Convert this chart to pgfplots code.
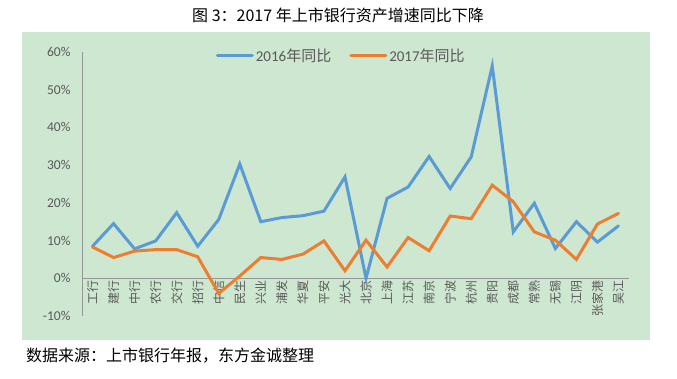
\documentclass[border=0pt]{standalone}
\usepackage{pgfplots}
\pgfplotsset{compat=1.18}
\usepackage{fontspec}
\setmainfont{Noto Sans CJK SC}
\newfontfamily\num{Carlito}
\definecolor{bgcol}{RGB}{205,231,208}
\definecolor{s16}{RGB}{91,155,213}
\definecolor{s17}{RGB}{237,125,49}
\definecolor{axgray}{RGB}{150,150,150}
\definecolor{txtgray}{RGB}{89,89,89}
\pgfplotstableread{
x y16 y17
0 8.5 8.3
1 14.5 5.5
2 7.8 7.2
3 9.9 7.6
4 17.4 7.6
5 8.5 5.7
6 15.6 -4.0
7 30.3 0.6
8 15.0 5.5
9 16.1 5.0
10 16.6 6.4
11 17.8 9.9
12 26.9 2.0
13 0.0 10.1
14 21.2 3.0
15 24.2 10.8
16 32.3 7.3
17 23.8 16.5
18 32.2 15.8
19 56.3 24.7
20 12.3 20.3
21 19.9 12.3
22 7.9 10.1
23 15.0 5.0
24 9.6 14.4
25 13.9 17.2
}\datatable
\begin{document}
\begin{tikzpicture}
\useasboundingbox (0pt,0pt) rectangle (677pt,378pt);
\fill[bgcol] (22pt,38pt) rectangle (650pt,346pt);
\node[font=\fontsize{16}{18}\selectfont] at (338pt,363pt) {图 3：2017 年上市银行资产增速同比下降};
\node[anchor=west,font=\fontsize{16}{18}\selectfont, inner sep=0pt] at (26pt,22pt) {数据来源：上市银行年报，东方金诚整理};
\begin{axis}[
  at={(82pt,62pt)}, anchor=south west,
  scale only axis, width=547pt, height=264pt,
  xmin=-0.5, xmax=25.5, ymin=-10, ymax=60,
  axis x line*=middle, axis y line*=left,
  axis line style={axgray, line width=0.8pt},
  major tick length=0pt,
  ytick={-10,0,10,20,30,40,50,60},
  yticklabels={-10\%,0\%,10\%,20\%,30\%,40\%,50\%,60\%},
  yticklabel style={font=\num\fontsize{13.5}{15}\selectfont, text=txtgray, xshift=-8pt},
  xtick={0,...,25},
  xticklabels={工行,建行,中行,农行,交行,招行,中信,民生,兴业,浦发,华夏,平安,光大,北京,上海,江苏,南京,宁波,杭州,贵阳,成都,常熟,无锡,江阴,张家港,吴江},
  xticklabel style={rotate=90, anchor=east, font=\fontsize{12}{13}\selectfont, text=txtgray, inner sep=1pt, xshift=-1pt},
  legend columns=2,
  legend style={at={(0.474,0.985)}, anchor=center, draw=none, fill=none,
    font=\fontsize{15}{17}\selectfont, text=txtgray,
    /tikz/every even column/.append style={column sep=16pt},
    nodes={inner xsep=2pt}},
  legend image code/.code={\draw[#1] (0pt,0pt) -- (35pt,0pt);},
  clip=false,
]
\addplot[s16, line width=3pt, line cap=round] table[x=x,y=y16]{\datatable};
\addlegendentry{{\num 2016}年同比}
\addplot[s17, line width=3pt, line cap=round] table[x=x,y=y17]{\datatable};
\addlegendentry{{\num 2017}年同比}
\end{axis}
\end{tikzpicture}
\end{document}
